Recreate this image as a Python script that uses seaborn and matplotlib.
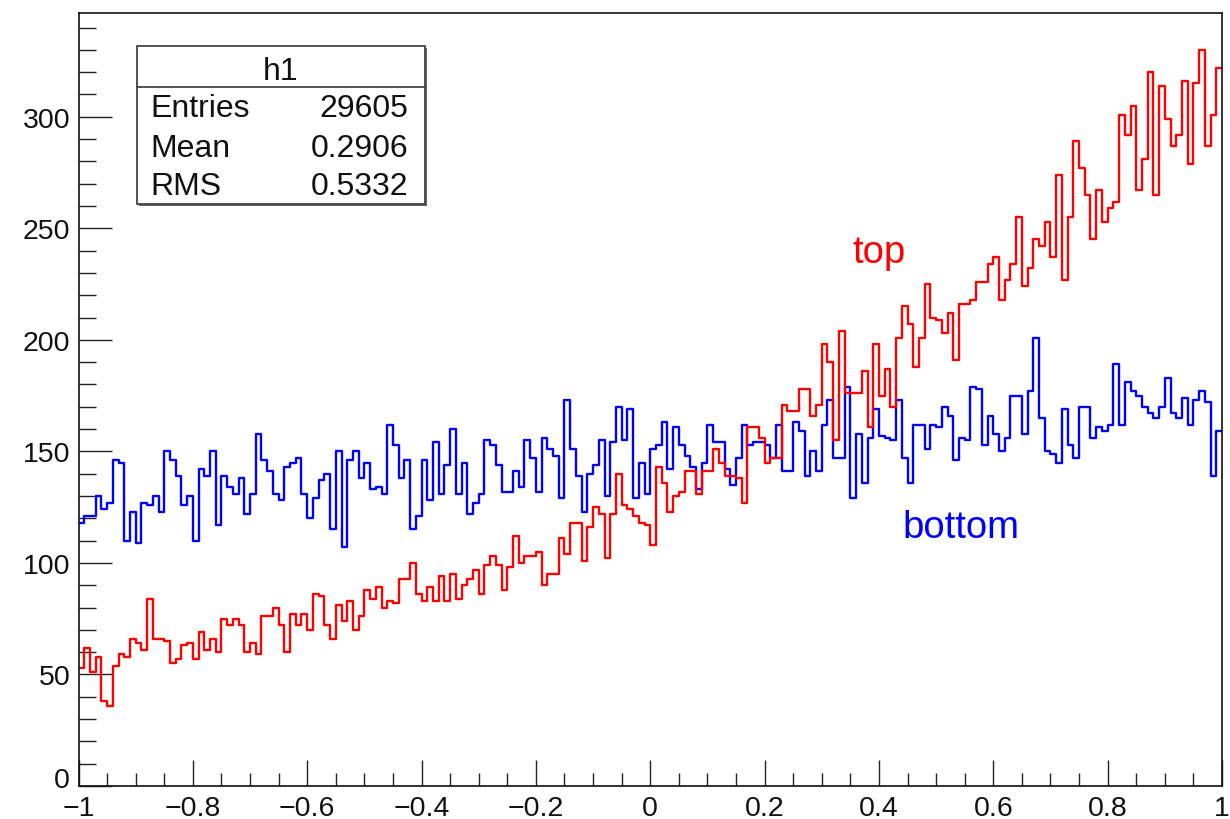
import numpy as np
import pandas as pd
import matplotlib
matplotlib.use("Agg")
import matplotlib.pyplot as plt
import seaborn as sns
from matplotlib.ticker import MultipleLocator, FuncFormatter
from matplotlib.patches import Rectangle
from matplotlib.lines import Line2D

sns.set_theme(style="white")
plt.rcParams["font.family"] = ["Liberation Sans", "DejaVu Sans"]

# ---- histogram definition -------------------------------------------------
x_min, x_max, n_bins = -1.0, 1.0, 200

top_counts = [
    53, 62, 51, 58, 38, 36, 54, 59, 58, 66,
    64, 61, 84, 66, 66, 65, 55, 57, 63, 64,
    57, 69, 61, 66, 60, 75, 72, 75, 72, 60,
    64, 59, 76, 76, 80, 72, 60, 77, 72, 77,
    70, 86, 85, 72, 66, 81, 74, 83, 70, 76,
    88, 84, 89, 80, 83, 82, 93, 93, 100, 86,
    83, 89, 83, 94, 83, 95, 84, 90, 93, 97,
    86, 99, 103, 99, 88, 98, 112, 100, 103, 103,
    105, 90, 95, 95, 111, 104, 118, 118, 101, 116,
    125, 122, 102, 122, 140, 126, 124, 121, 118, 117,
    108, 143, 136, 123, 130, 132, 141, 141, 131, 141,
    141, 151, 145, 139, 139, 138, 127, 161, 161, 156,
    145, 147, 147, 171, 168, 168, 178, 178, 166, 171,
    198, 190, 155, 204, 176, 176, 176, 186, 161, 198,
    175, 187, 170, 201, 215, 207, 188, 201, 225, 210,
    209, 203, 212, 191, 216, 216, 218, 226, 226, 234,
    237, 218, 227, 234, 255, 224, 232, 245, 242, 253,
    237, 274, 227, 255, 289, 277, 265, 245, 267, 253,
    259, 262, 301, 292, 305, 267, 281, 320, 265, 314,
    299, 287, 292, 316, 279, 315, 330, 287, 301, 322,
]

bottom_counts = [
    118, 121, 121, 130, 124, 127, 146, 145, 110, 123,
    109, 127, 126, 130, 123, 150, 146, 139, 126, 130,
    110, 142, 139, 150, 117, 139, 134, 131, 138, 122,
    131, 158, 146, 141, 131, 128, 143, 145, 147, 131,
    120, 129, 137, 140, 115, 150, 107, 146, 150, 138,
    145, 133, 134, 131, 162, 153, 138, 146, 115, 121,
    146, 128, 154, 131, 144, 160, 131, 145, 122, 127,
    131, 155, 153, 144, 132, 132, 141, 134, 155, 147,
    132, 156, 151, 148, 129, 173, 151, 139, 123, 140,
    144, 155, 130, 154, 170, 155, 169, 129, 145, 131,
    151, 153, 163, 142, 161, 153, 148, 143, 133, 145,
    162, 154, 154, 142, 135, 147, 162, 153, 154, 154,
    153, 147, 162, 141, 141, 163, 159, 139, 150, 141,
    162, 173, 147, 147, 179, 129, 158, 136, 156, 169,
    157, 156, 155, 173, 147, 136, 162, 162, 151, 162,
    161, 170, 166, 146, 156, 155, 179, 178, 153, 166,
    158, 150, 156, 175, 175, 158, 177, 201, 165, 150,
    149, 145, 169, 153, 147, 170, 170, 156, 161, 159,
    162, 189, 162, 181, 177, 175, 170, 167, 165, 170,
    183, 167, 165, 174, 162, 173, 177, 172, 139, 159,
]

series_names = ["top", "bottom"]
series_colors = {"top": "#ff0000", "bottom": "#0000ff"}

stats_title = "h1"
stats_labels = ["Entries", "Mean", "RMS"]
stats_values = ["29605", "0.2906", "0.5332"]

# ---- long-form table for seaborn ------------------------------------------
edges = np.linspace(x_min, x_max, n_bins + 1)
centers = 0.5 * (edges[:-1] + edges[1:])
df = pd.DataFrame({
    "x": np.concatenate([centers, centers]),
    "count": np.concatenate([top_counts, bottom_counts]),
    "sample": ["top"] * n_bins + ["bottom"] * n_bins,
})

W, H = 1230, 820
fig = plt.figure(figsize=(W / 100, H / 100), dpi=100)
fig.patch.set_facecolor("white")

# frame in pixel units
left_px, right_px, top_px, bottom_px = 78.5, 1222.0, 14.0, 787.0
ax = fig.add_axes([left_px / W, 1 - bottom_px / H,
                   (right_px - left_px) / W, (bottom_px - top_px) / H])
ax.set_facecolor("white")

sns.histplot(data=df, x="x", weights="count", hue="sample",
             hue_order=series_names, bins=n_bins, binrange=(x_min, x_max),
             element="step", fill=False, palette=series_colors,
             linewidth=1.7, legend=False, ax=ax)

ax.set_xlim(x_min, x_max)
ax.set_ylim(0, 1.05 * max(top_counts))
ax.set_xlabel("")
ax.set_ylabel("")

# ---- axes styling ----------------------------------------------------------
ax.xaxis.set_major_locator(MultipleLocator(0.2))
ax.xaxis.set_minor_locator(MultipleLocator(0.05))
ax.yaxis.set_major_locator(MultipleLocator(50))
ax.yaxis.set_minor_locator(MultipleLocator(10))

label_size = 20.5
label_color = "#111111"


def tick_fmt(v, pos):
    v = round(v, 6)
    s = f"{v:g}"
    if s == "-0":
        s = "0"
    return s.replace("-", "\u2212")


def y_tick_fmt(v, pos):
    # the origin label is placed separately, slightly raised
    if abs(v) < 1e-9:
        return ""
    return tick_fmt(v, pos)


ax.xaxis.set_major_formatter(FuncFormatter(tick_fmt))
ax.yaxis.set_major_formatter(FuncFormatter(y_tick_fmt))

ax.tick_params(which="both", direction="in", top=False, right=False,
               bottom=True, left=True, color="#222222", width=1.0,
               labelsize=label_size, labelcolor=label_color)
ax.tick_params(axis="x", which="major", length=19, pad=6.5)
ax.tick_params(axis="x", which="minor", length=9.5)
ax.tick_params(axis="y", which="major", length=24, pad=6)
ax.tick_params(axis="y", which="minor", length=12)

ax.annotate("0", xy=(0, 0), xycoords="axes fraction", xytext=(-6, 4.5),
            textcoords="offset points", ha="right", va="center",
            fontsize=label_size, color=label_color)

for sp in ax.spines.values():
    sp.set_visible(True)
    sp.set_color("#111111")
    sp.set_linewidth(1.2)

# ---- series annotations ----------------------------------------------------
ax.text(0.353, 235, "top", color=series_colors["top"], fontsize=27.5,
        ha="left", va="baseline")
ax.text(0.442, 111.7, "bottom", color=series_colors["bottom"], fontsize=27.5,
        ha="left", va="baseline")

# ---- statistics box --------------------------------------------------------
bx0, bx1, by0, by1 = 137, 425, 47, 205
sep_y = 88


def fx(px):
    return px / W


def fy(py):
    return 1 - py / H


shadow = Rectangle((fx(bx0 + 2), fy(by1 + 2)), fx(bx1 - bx0), fy(by0) - fy(by1),
                   transform=fig.transFigure, facecolor="#666666",
                   edgecolor="none", zorder=5)
box = Rectangle((fx(bx0), fy(by1)), fx(bx1 - bx0), fy(by0) - fy(by1),
                transform=fig.transFigure, facecolor="white",
                edgecolor="#444444", linewidth=1.3, zorder=6)
fig.add_artist(shadow)
fig.add_artist(box)
fig.add_artist(Line2D([fx(bx0), fx(bx1)], [fy(sep_y), fy(sep_y)],
                      transform=fig.transFigure, color="#444444",
                      linewidth=1.3, zorder=7))

fig.text(fx((bx0 + bx1) / 2), fy(80), stats_title, fontsize=23,
         ha="center", va="baseline", color="#111111", zorder=8)
row_baselines = [117, 157, 195]
for lab, val, yb in zip(stats_labels, stats_values, row_baselines):
    fig.text(fx(150), fy(yb), lab, fontsize=23, ha="left",
             va="baseline", color="#111111", zorder=8)
    fig.text(fx(408), fy(yb), val, fontsize=23, ha="right",
             va="baseline", color="#111111", zorder=8)

fig.savefig("out.png", dpi=100, facecolor="white")
